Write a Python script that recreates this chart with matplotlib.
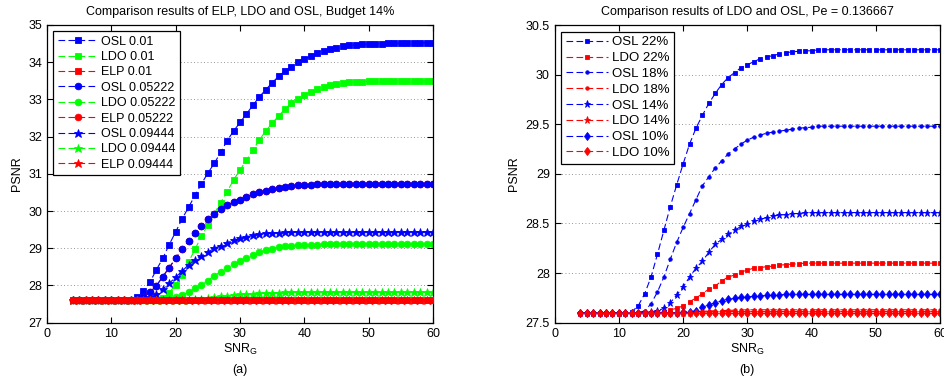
import numpy as np
import matplotlib.pyplot as plt

plt.rcParams['font.family'] = ['Liberation Sans', 'DejaVu Sans']
plt.rcParams['font.size'] = 8

# SNR_G axis (both panels)
snr = list(range(4, 61))

# (a) budget 14%
osl_001 = [27.6] * 9 + [27.62, 27.68, 27.86, 28.09, 28.42, 28.73, 29.10, 29.44, 29.79, 30.10,
                        30.42, 30.73, 31.02, 31.28, 31.58, 31.89, 32.15, 32.38, 32.61, 32.84,
                        33.07, 33.26, 33.45, 33.62, 33.77, 33.88, 34.00, 34.08, 34.17, 34.24,
                        34.30, 34.35, 34.39, 34.43, 34.45, 34.47, 34.48, 34.49, 34.50, 34.50,
                        34.51, 34.51, 34.51, 34.52, 34.52, 34.52, 34.52, 34.52]
ldo_001 = [27.6] * 14 + [27.66, 27.81, 28.02, 28.28, 28.63, 28.97, 29.32, 29.63, 29.93, 30.23,
                         30.52, 30.84, 31.10, 31.37, 31.64, 31.91, 32.15, 32.36, 32.56, 32.74,
                         32.90, 33.02, 33.12, 33.21, 33.27, 33.33, 33.38, 33.42, 33.44, 33.46,
                         33.47, 33.48, 33.49, 33.49, 33.50, 33.50, 33.50, 33.50, 33.50, 33.50,
                         33.50, 33.50, 33.50]
elp_001 = [27.6] * 57
osl_005 = [27.6] * 10 + [27.62, 27.68, 27.82, 27.99, 28.24, 28.48, 28.73, 28.97, 29.20, 29.42,
                         29.61, 29.78, 29.92, 30.05, 30.15, 30.24, 30.31, 30.38, 30.45, 30.50,
                         30.55, 30.59, 30.63, 30.65, 30.67, 30.69, 30.70, 30.71, 30.72, 30.73,
                         30.73, 30.73] + [30.74] * 15
ldo_005 = [27.6] * 14 + [27.61, 27.64, 27.68, 27.74, 27.82, 27.92, 28.01, 28.13, 28.26, 28.37,
                         28.47, 28.58, 28.67, 28.75, 28.82, 28.89, 28.95, 28.99, 29.03, 29.05,
                         29.07, 29.08, 29.09, 29.10, 29.10, 29.11, 29.11, 29.11] + [29.12] * 15
elp_005 = osl_005
osl_009 = [27.6] * 10 + [27.62, 27.64, 27.68, 27.76, 27.90, 28.06, 28.22, 28.39, 28.55, 28.69,
                         28.79, 28.89, 29.00, 29.07, 29.15, 29.21, 29.27, 29.31, 29.35, 29.38,
                         29.40, 29.41, 29.42, 29.43, 29.43] + [29.44] * 22
ldo_009 = [27.6] * 18 + [27.61, 27.63, 27.65, 27.67, 27.69, 27.71, 27.73, 27.75, 27.76, 27.77,
                         27.78, 27.79, 27.80, 27.81, 27.81, 27.82, 27.82] + [27.83] * 22
elp_009 = [27.6] * 57

# (b) Pe = 0.136667
osl_22 = [27.6] * 8 + [27.61, 27.67, 27.79, 27.96, 28.19, 28.43, 28.67, 28.89, 29.10,
                       29.30, 29.46, 29.59, 29.71, 29.81, 29.90, 29.97, 30.02, 30.07, 30.10,
                       30.13, 30.16, 30.18, 30.19, 30.21, 30.22, 30.23, 30.235, 30.24, 30.24] + [30.25] * 20
ldo_22 = [27.6] * 13 + [27.61, 27.63, 27.645, 27.67, 27.71, 27.75, 27.79, 27.84, 27.87, 27.92,
                        27.96, 27.98, 28.01, 28.03, 28.05, 28.055, 28.065, 28.07, 28.08, 28.085,
                        28.09, 28.095] + [28.10] * 22
osl_18 = [27.6] * 10 + [27.62, 27.69, 27.81, 27.96, 28.14, 28.31, 28.46, 28.60, 28.74, 28.88,
                        28.97, 29.06, 29.13, 29.20, 29.25, 29.30, 29.34, 29.37, 29.39, 29.41,
                        29.42, 29.43, 29.44, 29.45, 29.46, 29.465, 29.47] + [29.48] * 20
ldo_18 = [27.6] * 16 + [27.605, 27.61, 27.612, 27.615, 27.618, 27.62, 27.622, 27.624, 27.626,
                        27.628, 27.63] + [27.63] * 30
osl_14 = [27.6] * 11 + [27.61, 27.62, 27.645, 27.70, 27.78, 27.86, 27.96, 28.05, 28.12, 28.21,
                        28.29, 28.34, 28.39, 28.43, 28.47, 28.49, 28.52, 28.54, 28.56, 28.575,
                        28.585, 28.59, 28.60, 28.60] + [28.61] * 22
ldo_14 = [27.6] * 18 + [27.605, 27.607, 27.609, 27.61] + [27.612] * 35
osl_10 = [27.6] * 16 + [27.605, 27.61, 27.62, 27.655, 27.68, 27.70, 27.72, 27.735, 27.745,
                        27.755, 27.76, 27.765, 27.77, 27.775, 27.775, 27.78] + [27.785] * 25
ldo_10 = [27.6] * 57

B, G, R = (0, 0, 1), (0, 1, 0), (1, 0, 0)

fig = plt.figure(figsize=(9.45, 3.83), dpi=100)
ax1 = fig.add_axes([47 / 945, 1 - 322.7 / 383, 386 / 945, 297.7 / 383])
ax2 = fig.add_axes([554.7 / 945, 1 - 322.7 / 383, 385.3 / 945, 297.7 / 383])


def curve(ax, y, color, marker, ms, label, z=2):
    ax.plot(snr, y, linestyle=(0, (6, 3)), linewidth=0.8, color=color, marker=marker,
            markersize=ms, markerfacecolor=color, markeredgecolor=color,
            markeredgewidth=0.6, label=label, zorder=z)


curve(ax1, osl_001, B, 's', 4.3, 'OSL 0.01')
curve(ax1, ldo_001, G, 's', 4.3, 'LDO 0.01')
curve(ax1, elp_001, R, 's', 4.3, 'ELP 0.01', 3)
curve(ax1, osl_005, B, 'o', 4.8, 'OSL 0.05222', 2.5)
curve(ax1, ldo_005, G, 'o', 4.8, 'LDO 0.05222')
curve(ax1, elp_005, R, 'o', 4.8, 'ELP 0.05222', 2.2)
curve(ax1, osl_009, B, '*', 6.3, 'OSL 0.09444')
curve(ax1, ldo_009, G, '*', 6.3, 'LDO 0.09444')
curve(ax1, elp_009, R, '*', 6.3, 'ELP 0.09444', 3)

curve(ax2, osl_22, B, 's', 3.4, 'OSL 22%')
curve(ax2, ldo_22, R, 's', 3.4, 'LDO 22%')
curve(ax2, osl_18, B, '.', 5.0, 'OSL 18%')
curve(ax2, ldo_18, R, '.', 5.0, 'LDO 18%')
curve(ax2, osl_14, B, '*', 5.2, 'OSL 14%')
curve(ax2, ldo_14, R, '*', 5.2, 'LDO 14%')
curve(ax2, osl_10, B, 'd', 4.3, 'OSL 10%')
curve(ax2, ldo_10, R, 'd', 4.3, 'LDO 10%')

ax1.set_title('Comparison results of ELP, LDO and OSL, Budget 14%', fontsize=9, pad=7)
ax2.set_title('Comparison results of LDO and OSL, Pe = 0.136667', fontsize=9, pad=7)

ax1.set_ylim(27, 35)
ax1.set_yticks(range(27, 36))
ax2.set_ylim(27.5, 30.5)
ax2.set_yticks([27.5, 28, 28.5, 29, 29.5, 30, 30.5])
ax2.set_yticklabels(['27.5', '28', '28.5', '29', '29.5', '30', '30.5'])

for ax, tag in [(ax1, '(a)'), (ax2, '(b)')]:
    ax.set_xlim(0, 60)
    ax.set_xticks(range(0, 61, 10))
    ax.set_xlabel('SNR$_\\mathregular{G}$', fontsize=9, labelpad=2)
    ax.set_ylabel('PSNR', fontsize=9)
    ax.tick_params(direction='in', top=True, right=True, length=4, width=0.8, labelsize=9)
    ax.yaxis.grid(True, linestyle=(0, (1, 3)), color='0.45', linewidth=0.6)
    for s in ax.spines.values():
        s.set_linewidth(0.9)
    pos = ax.get_position()
    fig.text(pos.x0 + pos.width / 2, 1 - 370 / 383, tag, ha='center', va='center', fontsize=9)
    leg = ax.legend(loc='upper left', fontsize=9.5 if ax is ax2 else 9, handlelength=3.2,
                    numpoints=1, labelspacing=0.27, borderpad=0.35, handletextpad=0.3,
                    borderaxespad=0.5, fancybox=False, framealpha=1, edgecolor='black')
    leg.get_frame().set_linewidth(0.9)
    leg.set_zorder(5)

fig.savefig('out.png', dpi=100)
